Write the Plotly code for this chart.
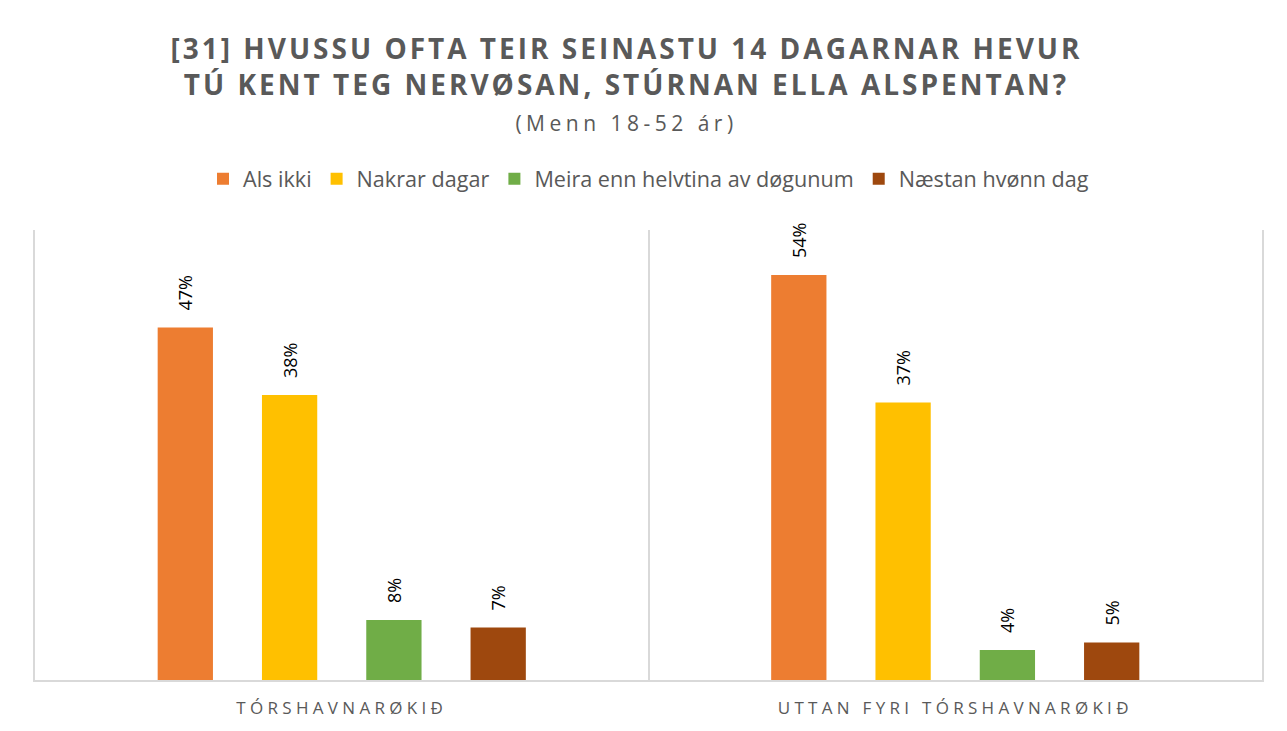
import plotly.graph_objects as go

categories = ["TÓRSHAVNARØKIÐ", "UTTAN FYRI TÓRSHAVNARØKIÐ"]
series_names = ["Als ikki", "Nakrar dagar", "Meira enn helvtina av døgunum", "Næstan hvønn dag"]
values = [
    [0.47, 0.54],
    [0.38, 0.37],
    [0.08, 0.04],
    [0.07, 0.05],
]
colors = ["#ED7D31", "#FFC000", "#70AD47", "#9E480E"]

PAD = "\u00a0\u00a0\u00a0"

fig = go.Figure()
for name, vals, col in zip(series_names, values, colors):
    fig.add_trace(go.Bar(
        x=categories, y=vals, name=name,
        marker=dict(color=col, line=dict(width=0)),
        text=[f"{PAD}{round(v*100)}%" for v in vals],
        textposition="outside", textangle=-90,
        textfont=dict(family="Open Sans", size=18, color="#000000"),
        cliponaxis=False,
    ))

title_text = (
    "<b>[31] HVUSSU OFTA TEIR SEINASTU 14 DAGARNAR HEVUR<br>"
    "TÚ KENT TEG NERVØSAN, STÚRNAN ELLA ALSPENTAN?</b><br>"
    "<span style='font-size:21px;font-weight:normal'>(Menn 18-52 ár)</span>"
)

# the page body has an 8px margin, so the figure is shifted by 8px
fig.update_layout(
    width=1279, height=723,
    paper_bgcolor="white", plot_bgcolor="white",
    barmode="group", bargap=0.32, bargroupgap=0.47,
    margin=dict(l=27, r=25, t=222, b=51),
    title=dict(
        text=title_text,
        x=0.4836, xanchor="center", y=0.93, yanchor="top",
        font=dict(family="Open Sans", size=28, color="#595959"),
    ),
    legend=dict(
        orientation="h", x=0.5, xanchor="center", y=1.113, yanchor="middle",
        font=dict(family="Open Sans", size=21.6, color="#595959"),
        itemwidth=30, traceorder="normal",
    ),
    xaxis=dict(
        type="category", tickson="boundaries", showgrid=True,
        gridcolor="#D9D9D9", gridwidth=1.5,
        showline=True, linecolor="#D9D9D9", linewidth=2,
        tickfont=dict(family="Open Sans", size=17, color="#595959"),
        ticks="", ticklabelstandoff=12,
    ),
    yaxis=dict(range=[0, 0.6], showticklabels=False, showgrid=False, zeroline=False,
               showline=True, mirror=True, linecolor="#D9D9D9", linewidth=1.5, ticks=""),
    showlegend=True,
)

post = """
function sp(){
  document.querySelectorAll('.gtitle').forEach(function(e){
    e.style.letterSpacing='3px';
    e.querySelectorAll('tspan').forEach(function(t){
      if ((t.textContent||'').indexOf('Menn') >= 0) { t.style.letterSpacing='4.5px'; }
    });
  });
  document.querySelectorAll('.xtick text').forEach(function(e){e.style.letterSpacing='4.3px';});
}
sp();
var gd = document.getElementById('{plot_id}');
if (gd && gd.on) { gd.on('plotly_afterplot', sp); }
"""

fig.write_html("out.html", post_script=post)
